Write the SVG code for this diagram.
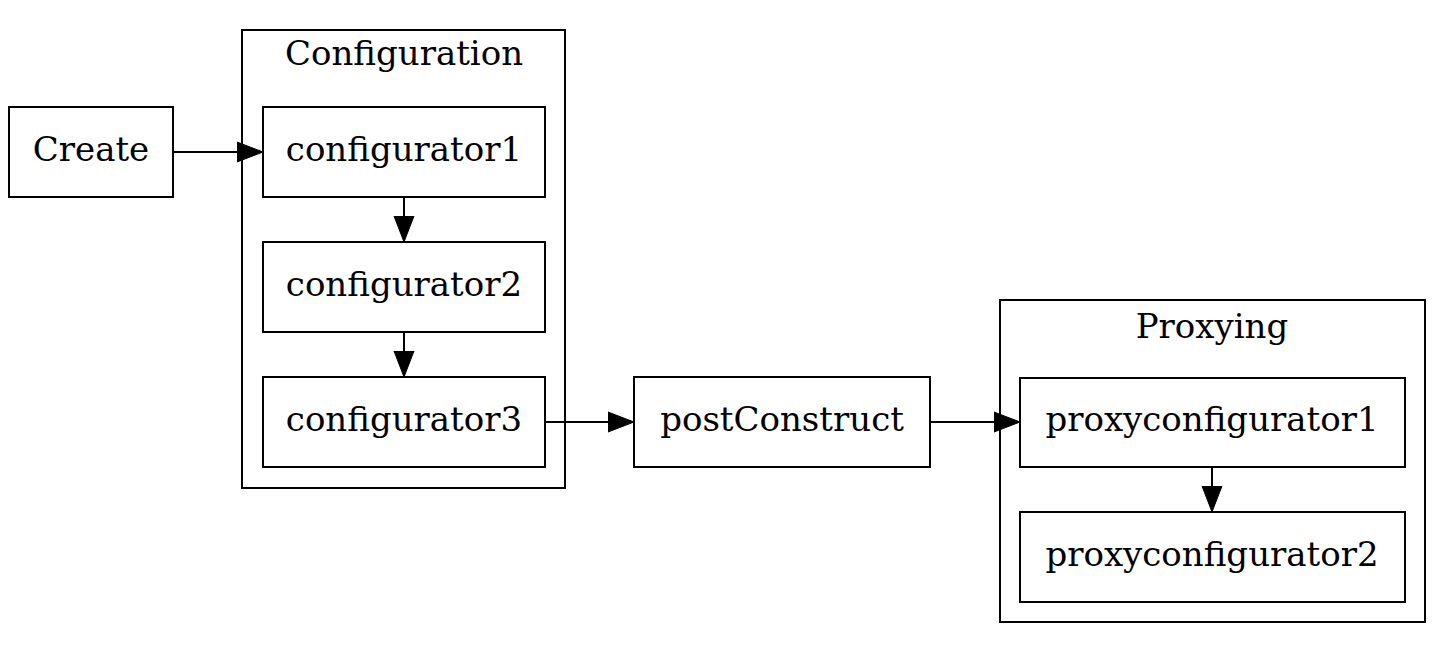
<svg xmlns="http://www.w3.org/2000/svg" width="1455" height="653" viewBox="0 0 1455 653">
<style>
.n rect{fill:none;stroke:#000;stroke-width:2}
.c rect{fill:none;stroke:#000;stroke-width:2}
text{font-family:"DejaVu Serif",serif;font-size:34px;fill:#000;text-anchor:middle}
.e line{stroke:#000;stroke-width:2}
</style>
<defs>
<marker id="ah" markerUnits="userSpaceOnUse" markerWidth="26" markerHeight="22" refX="26" refY="11" orient="auto">
<path d="M0,1 L26,11 L0,21 Z" fill="#000" stroke="#000" stroke-width="1"/>
</marker>
</defs>
<rect width="1455" height="653" fill="#fff"/>
<g id="cluster_configuration" class="c"><rect x="242" y="30" width="323" height="458"/><text x="404" y="65">Configuration</text></g>
<g id="cluster_proxying" class="c"><rect x="1000" y="300" width="425" height="322"/><text x="1212" y="338">Proxying</text></g>
<g id="create" class="n"><rect x="9" y="107" width="164" height="90"/><text x="91" y="161">Create</text></g>
<g id="configurator1" class="n"><rect x="263" y="107" width="282" height="90"/><text x="404" y="161">configurator1</text></g>
<g id="configurator2" class="n"><rect x="263" y="242" width="282" height="90"/><text x="404" y="296">configurator2</text></g>
<g id="configurator3" class="n"><rect x="263" y="377" width="282" height="90"/><text x="404" y="431">configurator3</text></g>
<g id="postConstruct" class="n"><rect x="634" y="377" width="296" height="90"/><text x="782" y="431">postConstruct</text></g>
<g id="proxyconfigurator1" class="n"><rect x="1020" y="378" width="385" height="89"/><text x="1212" y="431">proxyconfigurator1</text></g>
<g id="proxyconfigurator2" class="n"><rect x="1020" y="512" width="385" height="90"/><text x="1212" y="566">proxyconfigurator2</text></g>
<g id="edges" class="e">
<line x1="173" y1="152" x2="263" y2="152" marker-end="url(#ah)"/>
<line x1="404" y1="197" x2="404" y2="242" marker-end="url(#ah)"/>
<line x1="404" y1="332" x2="404" y2="377" marker-end="url(#ah)"/>
<line x1="545" y1="422" x2="634" y2="422" marker-end="url(#ah)"/>
<line x1="930" y1="422" x2="1020" y2="422" marker-end="url(#ah)"/>
<line x1="1212" y1="467" x2="1212" y2="512" marker-end="url(#ah)"/>
</g>
</svg>
